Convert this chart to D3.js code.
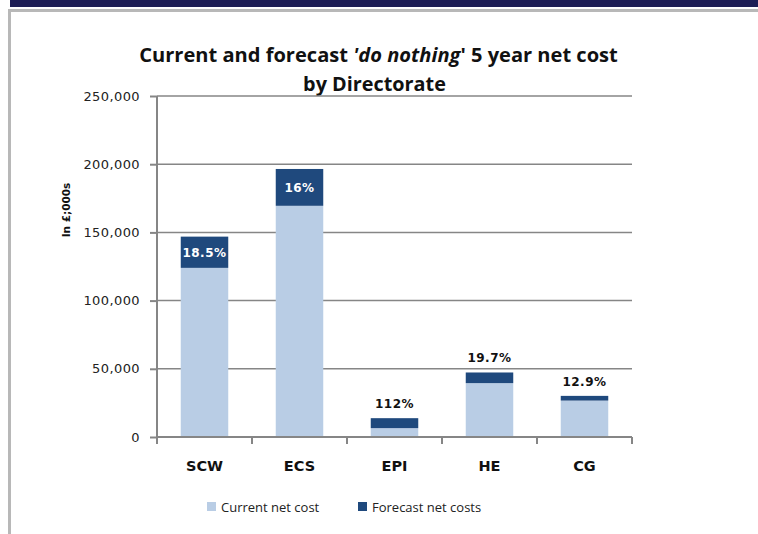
<!DOCTYPE html>
<html>
<head>
<meta charset="utf-8">
<script src="https://cdn.jsdelivr.net/npm/d3@7"></script>
<style>
  html, body { margin: 0; padding: 0; background: #fff; }
  svg { display: block; }
</style>
</head>
<body>
<div id="chart"></div>
<script>
// Current and forecast 'do nothing' 5 year net cost by Directorate
const categories   = ['SCW', 'ECS', 'EPI', 'HE', 'CG'];
const currentCost  = [124000, 169500, 6500, 39500, 26700];
const forecastCost = [22900, 27000, 7300, 7800, 3450];
const pctLabels    = ['18.5%', '16%', '112%', '19.7%', '12.9%'];
const yTicks       = [0, 50000, 100000, 150000, 200000, 250000];
const seriesNames  = ['Current net cost', 'Forecast net costs'];

const COLORS = { current: '#b9cde5', forecast: '#1f497d', grid: '#868686' };

const W = 758, H = 534;
const M = { top: 96, right: 126, bottom: 97, left: 157 };
const iW = W - M.left - M.right;
const iH = H - M.top - M.bottom;

const rows = categories.map((c, i) => ({
  cat: c, current: currentCost[i], forecast: forecastCost[i], pct: pctLabels[i]
}));

const svg = d3.select('#chart').append('svg')
  .attr('width', W).attr('height', H)
  .attr('viewBox', `0 0 ${W} ${H}`);

// slide frame: navy band and grey border
svg.append('rect').attr('x', 10).attr('y', 0).attr('width', W - 10).attr('height', 7)
  .attr('fill', '#1d1d55');
svg.append('rect').attr('x', 8).attr('y', 9).attr('width', W - 8).attr('height', 3)
  .attr('fill', '#b8b8b8');
svg.append('rect').attr('x', 8).attr('y', 9).attr('width', 3).attr('height', H - 9)
  .attr('fill', '#b8b8b8');

// title — two lines, squeezed horizontally to the width of the original
function titleLine(cx, cy, targetW, parts) {
  const gT = svg.append('g');
  const t = gT.append('text')
    .attr('x', 0).attr('y', 0)
    .attr('text-anchor', 'middle')
    .attr('font-family', '"Open Sans", Lato, sans-serif')
    .attr('font-weight', 700)
    .attr('font-size', 20)
    .attr('fill', '#111');
  parts.forEach(p => t.append('tspan').attr('font-style', p.italic ? 'italic' : null).text(p.text));
  const w = t.node().getComputedTextLength();
  gT.attr('transform', `translate(${cx},${cy}) scale(${targetW / w},1)`);
}
titleLine(378.5, 62, 479, [
  { text: 'Current and forecast ' },
  { text: "'do nothing", italic: true },
  { text: "' 5 year net cost" }
]);
titleLine(374.5, 91, 143, [{ text: 'by Directorate' }]);

const g = svg.append('g').attr('transform', `translate(${M.left},${M.top})`);

const x = d3.scaleBand()
  .domain(categories)
  .range([0, iW])
  .paddingInner(0.5)
  .paddingOuter(0.25);

const y = d3.scaleLinear()
  .domain([0, 250000])
  .range([iH, 0]);

// gridlines
g.append('g')
  .attr('stroke', COLORS.grid)
  .attr('stroke-width', 1.5)
  .selectAll('line')
  .data(yTicks.filter(d => d > 0))
  .join('line')
  .attr('x1', 0).attr('x2', iW)
  .attr('y1', d => y(d)).attr('y2', d => y(d));

// stacked bars
const stack = d3.stack().keys(['current', 'forecast'])(rows);
g.append('g')
  .selectAll('g')
  .data(stack)
  .join('g')
  .attr('fill', d => COLORS[d.key])
  .selectAll('rect')
  .data(d => d)
  .join('rect')
  .attr('x', d => x(d.data.cat))
  .attr('y', d => y(d[1]))
  .attr('width', x.bandwidth())
  .attr('height', d => y(d[0]) - y(d[1]));

// y axis
g.append('g')
  .call(d3.axisLeft(y).tickValues(yTicks).tickSize(7).tickPadding(10)
    .tickFormat(d3.format(',')))
  .call(ax => ax.select('.domain').attr('stroke', COLORS.grid).attr('stroke-width', 2)
    .attr('d', `M0,0V${iH}`))
  .call(ax => ax.selectAll('.tick line').attr('stroke', COLORS.grid).attr('stroke-width', 2))
  .call(ax => ax.selectAll('text')
    .attr('font-family', '"DejaVu Sans", Verdana, sans-serif')
    .attr('font-size', 13).attr('letter-spacing', 0.4).attr('fill', '#222'));

// x axis with ticks at category boundaries
const step = x.step();
const bounds = d3.range(categories.length + 1).map(i => i * step);
const xa = g.append('g').attr('transform', `translate(0,${iH})`);
xa.append('line').attr('x1', 0).attr('x2', iW)
  .attr('stroke', COLORS.grid).attr('stroke-width', 2);
xa.selectAll('.bt').data(bounds).join('line')
  .attr('class', 'bt')
  .attr('x1', d => d).attr('x2', d => d)
  .attr('y1', 0).attr('y2', 7)
  .attr('stroke', COLORS.grid).attr('stroke-width', 2);
xa.selectAll('.cl').data(categories).join('text')
  .attr('class', 'cl')
  .attr('x', d => x(d) + x.bandwidth() / 2)
  .attr('y', 34)
  .attr('text-anchor', 'middle')
  .attr('font-family', '"DejaVu Sans", Verdana, sans-serif')
  .attr('font-weight', 700)
  .attr('font-size', 14.5)
  .attr('fill', '#111')
  .text(d => d);

// y axis title
svg.append('text')
  .attr('transform', 'translate(70,210) rotate(-90)')
  .attr('text-anchor', 'middle')
  .attr('font-family', '"DejaVu Sans", Verdana, sans-serif')
  .attr('font-weight', 700)
  .attr('font-size', 10.5)
  .attr('fill', '#111')
  .text('In £;000s');

// percentage labels: inside the forecast segment when it is tall enough
g.selectAll('.pct').data(rows).join('text')
  .attr('class', 'pct')
  .each(function (d) {
    const top = y(d.current + d.forecast);
    const segH = y(d.current) - top;
    const inside = segH > 20;
    d3.select(this)
      .attr('x', x(d.cat) + x.bandwidth() / 2)
      .attr('y', inside ? top + segH / 2 + 4.5 : top - 10)
      .attr('fill', inside ? '#fff' : '#111');
  })
  .attr('text-anchor', 'middle')
  .attr('font-family', '"DejaVu Sans", Verdana, sans-serif')
  .attr('font-weight', 700)
  .attr('font-size', 12)
  .attr('letter-spacing', 0.5)
  .text(d => d.pct);

// legend
const leg = svg.append('g').attr('font-family', '"Open Sans", sans-serif')
  .attr('font-size', 13).attr('fill', '#222');
const legX = [207, 358];
seriesNames.forEach((name, i) => {
  leg.append('rect').attr('x', legX[i]).attr('y', 502).attr('width', 9).attr('height', 9)
    .attr('fill', i === 0 ? COLORS.current : COLORS.forecast);
  leg.append('text').attr('x', legX[i] + 14).attr('y', 512).text(name);
});
</script>
</body>
</html>
